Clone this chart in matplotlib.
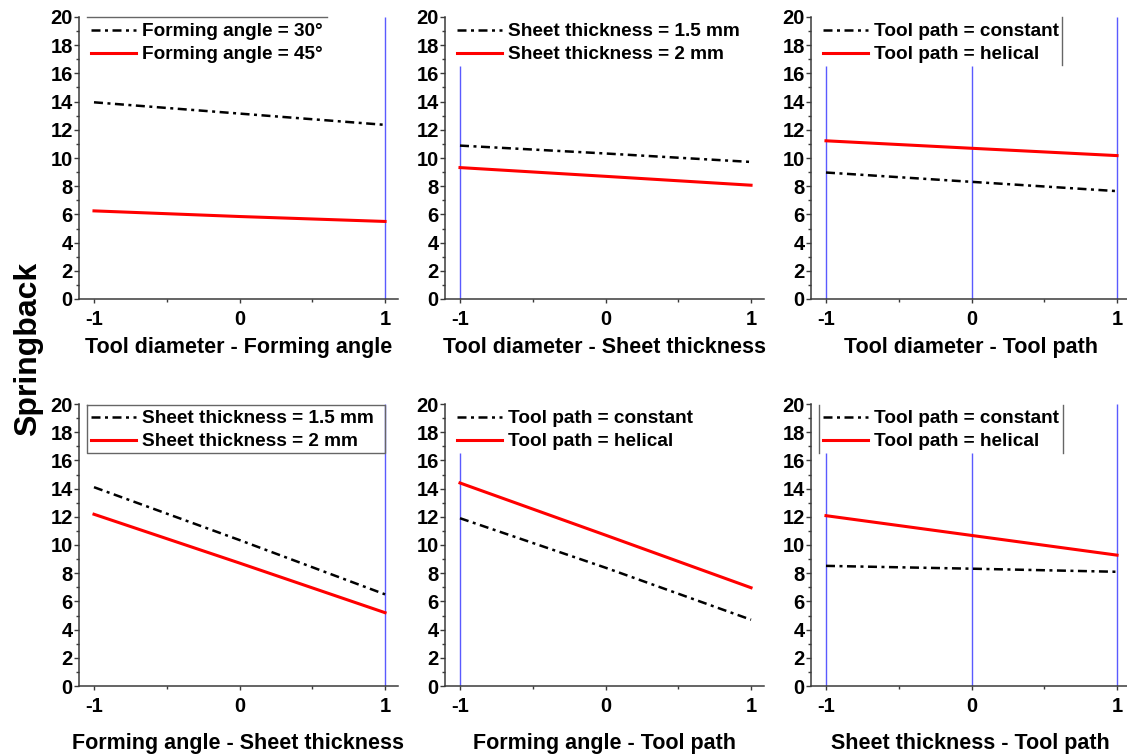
import matplotlib
matplotlib.use("Agg")
import matplotlib.pyplot as plt
from matplotlib.lines import Line2D
from matplotlib.ticker import MultipleLocator

plt.rcParams['font.family'] = ['Liberation Sans', 'DejaVu Sans']
plt.rcParams['font.weight'] = 'bold'

# ---- data ----
x_levels = [-1, 0, 1]

xlabels = ["Tool diameter - Forming angle", "Tool diameter - Sheet thickness",
           "Tool diameter - Tool path", "Forming angle - Sheet thickness",
           "Forming angle - Tool path", "Sheet thickness - Tool path"]

labels_black = ["Forming angle = 30°", "Sheet thickness = 1.5 mm", "Tool path = constant",
                "Sheet thickness = 1.5 mm", "Tool path = constant", "Tool path = constant"]
labels_red = ["Forming angle = 45°", "Sheet thickness = 2 mm", "Tool path = helical",
              "Sheet thickness = 2 mm", "Tool path = helical", "Tool path = helical"]

black_1 = [13.95, 13.15, 12.35]
red_1 = [6.25, 5.85, 5.5]
black_2 = [10.88, 10.32, 9.72]
red_2 = [9.32, 8.7, 8.07]
black_3 = [8.97, 8.31, 7.65]
red_3 = [11.22, 10.69, 10.17]
black_4 = [14.1, 10.35, 6.5]
red_4 = [12.18, 8.72, 5.2]
black_5 = [11.9, 8.39, 4.7]
red_5 = [14.4, 10.7, 6.97]
black_6 = [8.52, 8.32, 8.1]
red_6 = [12.08, 10.68, 9.28]

black_series = [black_1, black_2, black_3, black_4, black_5, black_6]
red_series = [red_1, red_2, red_3, red_4, red_5, red_6]

# blue vertical guide lines: (x position, top value)
guides = [[(1, 20)],
          [(-1, 16.5)],
          [(-1, 16.5), (0, 16.5), (1, 20)],
          [(1, 20)],
          [(-1, 16.5)],
          [(-1, 16.5), (0, 16.5), (1, 20)]]

# ---- figure ----
W, H = 1127, 754
fig = plt.figure(figsize=(W / 100, H / 100), dpi=100)

lefts = [79, 445, 811]
tops = [17, 404]
label_pads = [6, 12]
ax_w, ax_h = 319, 282

spine_col = '#3a3a3a'
dashdot = (0, (3.6, 1.8, 1.2, 1.8))

for i in range(6):
    r, c = divmod(i, 3)
    l = lefts[c]
    t = tops[r]
    ax = fig.add_axes([l / W, 1 - (t + ax_h) / H, ax_w / W, ax_h / H])
    ax.set_xlim(-1.103, 1.089)
    ax.set_ylim(0, 20)
    for s in ['top', 'right']:
        ax.spines[s].set_visible(False)
    for s in ['left', 'bottom']:
        ax.spines[s].set_color(spine_col)
        ax.spines[s].set_linewidth(1.1)
    ax.set_xticks(x_levels)
    ax.set_xticklabels([str(v) for v in x_levels])
    ax.set_yticks(range(0, 21, 2))
    ax.yaxis.set_minor_locator(MultipleLocator(1))
    ax.xaxis.set_minor_locator(MultipleLocator(0.5))
    ax.tick_params(axis='y', which='major', direction='out', length=3.5, width=1,
                   color=spine_col, labelsize=14.5, pad=1)
    ax.tick_params(axis='x', which='major', direction='out', length=3, width=1,
                   color=spine_col, labelsize=14.5, pad=5)
    ax.tick_params(axis='both', which='minor', direction='out', length=2, width=1,
                   color=spine_col)
    for lab in ax.get_xticklabels() + ax.get_yticklabels():
        lab.set_fontweight('bold')

    for (gx, gtop) in guides[i]:
        ax.vlines(gx, 0, gtop, colors='#5a5aff', linewidth=1.0, zorder=1)

    ax.plot(x_levels, black_series[i], color='black', linewidth=1.8,
            linestyle=dashdot, label=labels_black[i], zorder=3)
    ax.plot(x_levels, red_series[i], color='#ff0000', linewidth=2.2,
            label=labels_red[i], zorder=3)

    leg = ax.legend(loc='upper left', bbox_to_anchor=(6 / ax_w, 1), frameon=False,
                    prop={'size': 13.7, 'weight': 'bold'}, handlelength=2.35,
                    handletextpad=0.35, borderaxespad=0.0, borderpad=0.32,
                    labelspacing=0.3)

    ax.set_xlabel(xlabels[i], fontsize=15.5, fontweight='bold', labelpad=label_pads[r])

    frame_kw = dict(transform=ax.transAxes, color='#666666', linewidth=1.0,
                    clip_on=False, zorder=4)
    if i == 0:
        ax.add_line(Line2D([0.025, 0.777], [1.0, 1.0], **frame_kw))
    elif i == 2:
        ax.add_line(Line2D([0.7875, 0.7875], [1.0, 0.83], **frame_kw))
    elif i == 3:
        ax.add_line(Line2D([0.025, 0.959, 0.959, 0.025, 0.025],
                           [0.996, 0.996, 0.827, 0.827, 0.996], **frame_kw))
    elif i == 5:
        ax.add_line(Line2D([0.025, 0.025], [0.996, 0.827], **frame_kw))
        ax.add_line(Line2D([0.79, 0.79], [0.996, 0.827], **frame_kw))

fig.text(28 / W, 1 - 349 / H, "Springback", rotation=90, fontsize=23,
         fontweight='bold', ha='center', va='center')

fig.savefig("out.png", dpi=100)
